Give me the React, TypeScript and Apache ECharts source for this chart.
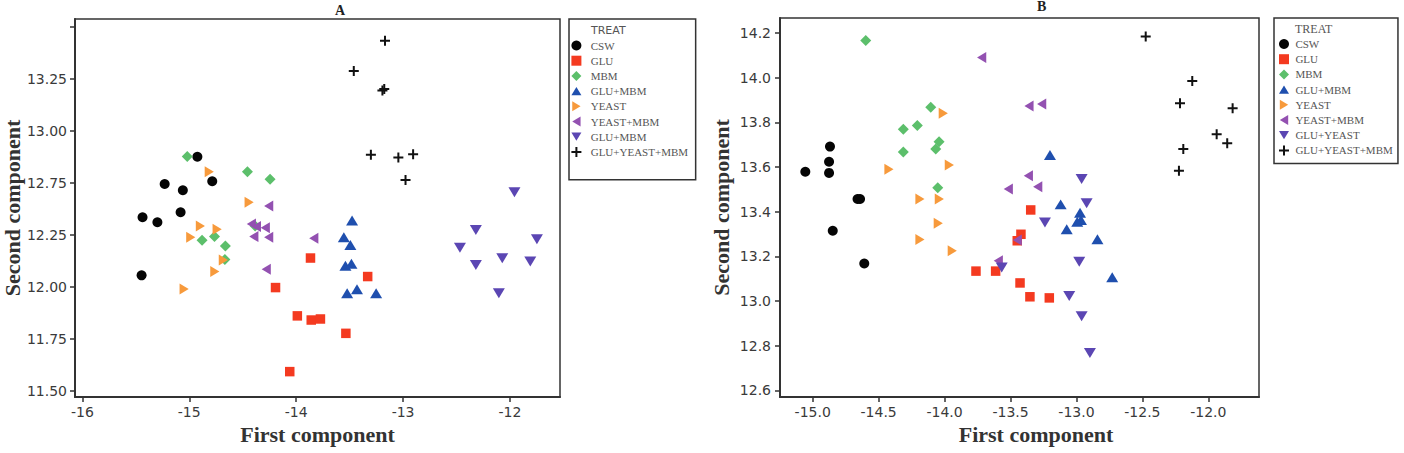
import React, { useEffect, useRef } from "react";
import * as echarts from "echarts";

// ---------- Panel A data [first component, second component] ----------
const A_CSW: number[][] = [[-15.437, 12.335], [-15.298, 12.311], [-15.23, 12.495], [-15.06, 12.465], [-15.081, 12.359], [-14.924, 12.626], [-14.785, 12.508], [-15.446, 12.056]];
const A_GLU: number[][] = [[-13.866, 12.139], [-14.193, 11.997], [-13.989, 11.861], [-13.859, 11.841], [-13.773, 11.846], [-13.535, 11.777], [-14.06, 11.593], [-13.331, 12.05]];
const A_MBM: number[][] = [[-15.019, 12.627], [-14.456, 12.554], [-14.244, 12.518], [-14.88, 12.224], [-14.764, 12.243], [-14.662, 12.197], [-14.667, 12.132], [-14.384, 12.293]];
const A_GLU_MBM: number[][] = [[-13.477, 12.319], [-13.554, 12.239], [-13.493, 12.202], [-13.539, 12.102], [-13.483, 12.111], [-13.523, 11.97], [-13.431, 11.989], [-13.252, 11.97]];
const A_YEAST: number[][] = [[-14.813, 12.554], [-14.44, 12.407], [-14.896, 12.293], [-14.986, 12.239], [-14.739, 12.277], [-14.681, 12.13], [-14.761, 12.074], [-15.048, 11.99]];
const A_YEAST_MBM: number[][] = [[-14.257, 12.389], [-14.419, 12.303], [-14.372, 12.29], [-14.396, 12.242], [-14.289, 12.285], [-14.257, 12.239], [-13.835, 12.234], [-14.28, 12.085]];
const A_GLU_MBM_2: number[][] = [[-11.958, 12.455], [-12.319, 12.274], [-12.468, 12.189], [-11.748, 12.229], [-12.072, 12.138], [-12.319, 12.106], [-11.81, 12.122], [-12.104, 11.97]];
const A_GLU_YEAST_MBM: number[][] = [[-13.169, 13.184], [-13.461, 13.038], [-13.193, 12.944], [-13.176, 12.952], [-13.301, 12.635], [-13.044, 12.622], [-12.906, 12.638], [-12.977, 12.514]];

// ---------- Panel B data ----------
const B_CSW: number[][] = [[-15.056, 13.579], [-14.869, 13.692], [-14.876, 13.624], [-14.876, 13.574], [-14.641, 13.457], [-14.66, 13.457], [-14.848, 13.315], [-14.609, 13.168]];
const B_GLU: number[][] = [[-13.347, 13.408], [-13.421, 13.299], [-13.449, 13.27], [-13.762, 13.134], [-13.613, 13.134], [-13.428, 13.081], [-13.353, 13.019], [-13.206, 13.014]];
const B_MBM: number[][] = [[-14.598, 14.167], [-14.105, 13.868], [-14.207, 13.786], [-14.313, 13.77], [-14.042, 13.714], [-14.067, 13.681], [-14.313, 13.668], [-14.052, 13.508]];
const B_GLU_MBM: number[][] = [[-13.201, 13.654], [-13.12, 13.433], [-12.973, 13.395], [-12.966, 13.363], [-12.994, 13.355], [-13.074, 13.321], [-12.841, 13.277], [-12.729, 13.106]];
const B_YEAST: number[][] = [[-14.01, 13.841], [-14.422, 13.59], [-13.964, 13.609], [-14.187, 13.457], [-14.04, 13.457], [-14.048, 13.348], [-14.187, 13.276], [-13.942, 13.225]];
const B_YEAST_MBM: number[][] = [[-13.719, 14.091], [-13.36, 13.874], [-13.264, 13.883], [-13.365, 13.561], [-13.294, 13.512], [-13.517, 13.502], [-13.449, 13.273], [-13.593, 13.18]];
const B_GLU_YEAST: number[][] = [[-13.239, 13.352], [-13.567, 13.15], [-12.961, 13.547], [-12.923, 13.438], [-12.979, 13.176], [-13.055, 13.022], [-12.961, 12.932], [-12.898, 12.767]];
const B_GLU_YEAST_MBM: number[][] = [[-12.475, 14.185], [-12.122, 13.986], [-12.215, 13.886], [-11.816, 13.864], [-11.937, 13.747], [-11.857, 13.707], [-12.19, 13.681], [-12.223, 13.584]];

// ---------- Ticks ----------
const A_X_TICKS = [-16, -15, -14, -13, -12];
const A_Y_TICKS = [11.5, 11.75, 12, 12.25, 12.5, 12.75, 13, 13.25];
const A_Y_TICK_LABELS = ["11.50", "11.75", "12.00", "12.25", "12.75", "13.00", "13.25", ""];
const B_X_TICKS = [-15, -14.5, -14, -13.5, -13, -12.5, -12];
const B_Y_TICKS = [12.6, 12.8, 13, 13.2, 13.4, 13.6, 13.8, 14, 14.2];

const A_LEGEND = ["CSW", "GLU", "MBM", "GLU+MBM", "YEAST", "YEAST+MBM", "GLU+MBM", "GLU+YEAST+MBM"];
const B_LEGEND = ["CSW", "GLU", "MBM", "GLU+MBM", "YEAST", "YEAST+MBM", "GLU+YEAST", "GLU+YEAST+MBM"];

const COLORS = ["#050505", "#F43A20", "#5CBF6B", "#1F4FAE", "#F79A3C", "#9351B1", "#5B46B3", "#111111"];
const SYMBOLS = [
  "circle",
  "rect",
  "diamond",
  "path://M6,0L12,10L0,10Z",
  "path://M0,0L10,6L0,12Z",
  "path://M10,0L0,6L10,12Z",
  "path://M0,0L12,0L6,10Z",
  "path://M4,0H6V4H10V6H6V10H4V6H0V4H4Z",
];
const SIZES = [10, 9.5, 11, 12, 11, 11, 12, 10];

const A_DATA = [A_CSW, A_GLU, A_MBM, A_GLU_MBM, A_YEAST, A_YEAST_MBM, A_GLU_MBM_2, A_GLU_YEAST_MBM];
const B_DATA = [B_CSW, B_GLU, B_MBM, B_GLU_MBM, B_YEAST, B_YEAST_MBM, B_GLU_YEAST, B_GLU_YEAST_MBM];

const AXIS_COLOR = "#333";
const LABEL_FONT = { fontFamily: "DejaVu Sans", fontSize: 14, color: "#3a3a3a" };
const NAME_FONT = { fontFamily: "Liberation Serif", fontWeight: "bold" as const, fontSize: 22, color: "#333" };

function axisBase() {
  return {
    type: "value" as const,
    splitLine: { show: false },
    axisLine: { show: true, onZero: false, lineStyle: { color: AXIS_COLOR, width: 2 } },
    axisTick: { show: true, length: 5, lineStyle: { color: AXIS_COLOR, width: 1.5 } },
  };
}

export default function App() {
  const ref = useRef<HTMLDivElement>(null);
  useEffect(() => {
    if (!ref.current) return;
    const chart = echarts.init(ref.current, undefined, { renderer: "svg" });

    const aNames = A_LEGEND.map((n, i) => "A:" + n + (i === 6 ? "#2" : ""));
    const bNames = B_LEGEND.map((n) => "B:" + n);
    const strip = (n: string) => n.slice(2).replace("#2", "");

    const mk = (names: string[], data: number[][][], idx: number) =>
      names.map((name, i) => ({
        type: "scatter" as const,
        name,
        xAxisIndex: idx,
        yAxisIndex: idx,
        data: data[i],
        symbol: SYMBOLS[i],
        symbolSize: SIZES[i],
        symbolKeepAspect: true,
        itemStyle: { color: COLORS[i], opacity: 1 },
        emphasis: { disabled: true },
      }));

    const legendBase = {
      orient: "vertical" as const,
      itemWidth: 10,
      itemHeight: 10,
      itemGap: 4.2,
      borderColor: AXIS_COLOR,
      borderWidth: 1.5,
      selectedMode: false,
      formatter: strip,
    };

    chart.setOption({
      animation: false,
      backgroundColor: "#fff",
      title: [
        { text: "A", left: 335, top: 3, padding: 0, textStyle: { fontFamily: "Liberation Serif", fontWeight: "bold", fontSize: 14, color: "#222" } },
        { text: "B", left: 1037, top: -1, padding: 0, textStyle: { fontFamily: "Liberation Serif", fontWeight: "bold", fontSize: 14, color: "#222" } },
      ],
      grid: [
        { left: 70, top: 19, width: 490, height: 378, show: true, borderColor: AXIS_COLOR, borderWidth: 1.5, containLabel: false },
        { left: 780, top: 18, width: 479, height: 379, show: true, borderColor: AXIS_COLOR, borderWidth: 1.5, containLabel: false },
      ],
      xAxis: [
        {
          ...axisBase(),
          gridIndex: 0,
          min: -16.069,
          max: -11.532,
          axisTick: { show: true, length: 5, customValues: A_X_TICKS, lineStyle: { color: AXIS_COLOR, width: 1.5 } },
          axisLabel: { ...LABEL_FONT, margin: 8, customValues: A_X_TICKS, formatter: (v: number) => String(v) },
          name: "First component",
          nameLocation: "middle",
          nameGap: 25,
          nameTextStyle: NAME_FONT,
        },
        {
          ...axisBase(),
          gridIndex: 1,
          min: -15.248,
          max: -11.616,
          axisTick: { show: true, length: 5, customValues: B_X_TICKS, lineStyle: { color: AXIS_COLOR, width: 1.5 } },
          axisLabel: { ...LABEL_FONT, margin: 8, customValues: B_X_TICKS, formatter: (v: number) => v.toFixed(1) },
          name: "First component",
          nameLocation: "middle",
          nameGap: 25,
          nameTextStyle: { ...NAME_FONT, padding: [0, 0, 0, 33] },
        },
      ],
      yAxis: [
        {
          ...axisBase(),
          gridIndex: 0,
          min: 11.471,
          max: 13.288,
          axisTick: { show: true, length: 5, customValues: A_Y_TICKS, lineStyle: { color: AXIS_COLOR, width: 1.5 } },
          axisLabel: {
            ...LABEL_FONT,
            margin: 8,
            customValues: A_Y_TICKS,
            formatter: (v: number) => {
              const k = A_Y_TICKS.findIndex((t) => Math.abs(t - v) < 1e-6);
              return k >= 0 ? A_Y_TICK_LABELS[k] : "";
            },
          },
          name: "Second component",
          nameLocation: "middle",
          nameGap: 50,
          nameTextStyle: NAME_FONT,
        },
        {
          ...axisBase(),
          gridIndex: 1,
          min: 12.57,
          max: 14.268,
          axisTick: { show: true, length: 5, customValues: B_Y_TICKS, lineStyle: { color: AXIS_COLOR, width: 1.5 } },
          axisLabel: { ...LABEL_FONT, margin: 9, customValues: B_Y_TICKS, formatter: (v: number) => v.toFixed(1) },
          name: "Second component",
          nameLocation: "middle",
          nameGap: 48,
          nameTextStyle: NAME_FONT,
        },
      ],
      legend: [
        {
          ...legendBase,
          left: 569,
          top: 19,
          data: aNames,
          padding: [21, 7.6, 22.3, 2.4],
          textStyle: { fontFamily: "Liberation Serif", fontSize: 11, color: "#555", padding: [0, 0, 0, 4.3] },
        },
        {
          ...legendBase,
          left: 1274,
          top: 18,
          data: bNames,
          padding: [20.5, 5.2, 7.5, 5],
          textStyle: { fontFamily: "Liberation Serif", fontSize: 11, color: "#555", padding: [0, 0, 0, 1.4] },
        },
      ],
      graphic: [
        { type: "text", left: 591, top: 25, style: { text: "TREAT", font: "11px 'DejaVu Sans'", fill: "#555" } },
        { type: "text", left: 1295, top: 23, style: { text: "TREAT", font: "12px 'Liberation Serif'", fill: "#555" } },
      ],
      series: [...mk(aNames, A_DATA, 0), ...mk(bNames, B_DATA, 1)],
    });

    return () => chart.dispose();
  }, []);

  return <div ref={ref} style={{ position: "fixed", left: 0, top: 0, width: 1404, height: 453 }} />;
}
